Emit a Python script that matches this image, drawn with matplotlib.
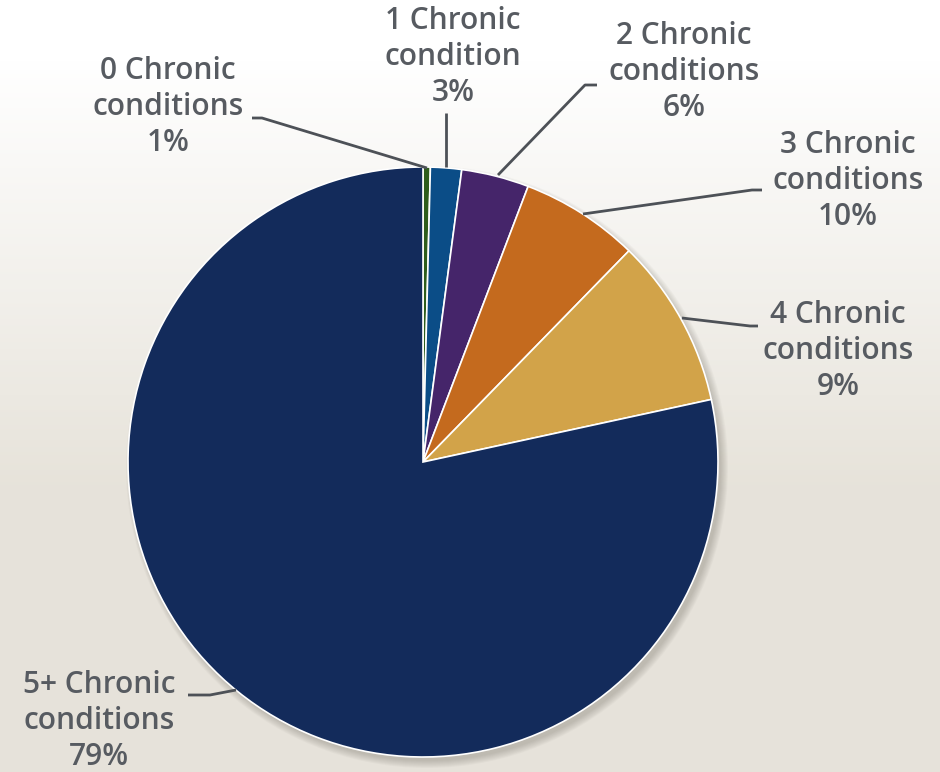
import matplotlib
matplotlib.use("Agg")
import matplotlib.pyplot as plt
import numpy as np
from matplotlib.patches import Circle

# slice sizes as drawn (percent of circle), clockwise from 12 o'clock
categories = ["0 Chronic\nconditions", "1 Chronic\ncondition", "2 Chronic\nconditions",
              "3 Chronic\nconditions", "4 Chronic\nconditions", "5+ Chronic\nconditions"]
shares = [0.4, 1.7, 3.7, 6.5, 9.3, 78.4]
pct_labels = ["1%", "3%", "6%", "10%", "9%", "79%"]
colors = ["#2e5d1c", "#0b4d87", "#45256a", "#c46a1e", "#d2a349", "#132b5b"]

W, H = 940, 772
fig = plt.figure(figsize=(W / 100, H / 100), dpi=100)

# background: white at the top fading into a warm paper colour
bg = fig.add_axes([0, 0, 1, 1])
t = np.clip((np.linspace(0, 1, 400) - 0.08) / 0.55, 0, 1)[:, None]
top = np.array([1.0, 1.0, 1.0])
bottom = np.array([0.905, 0.89, 0.855])
grad = top * (1 - t[..., None]) + bottom * t[..., None]
grad = np.repeat(grad, 4, axis=1)
bg.imshow(grad, aspect="auto", extent=[0, 1, 0, 1])
bg.axis("off")

ax = fig.add_axes([0, 0, 1, 1])
ax.set_xlim(0, W)
ax.set_ylim(0, H)
ax.set_aspect("equal")
ax.axis("off")
ax.patch.set_alpha(0)


def py(y):
    # pixel row -> data y
    return H - y


cx, cy, r = 423, py(462), 295

# soft drop shadow
for k in range(8):
    ax.add_patch(Circle((cx + 4, cy - 5), r + 6 - k, color="#6b665c", alpha=0.045, lw=0, zorder=1))

ax.pie(shares, colors=colors, startangle=90, counterclock=False, center=(cx, cy), radius=r,
       wedgeprops=dict(edgecolor="white", linewidth=1.2), frame=True)
for w in ax.patches[8:]:
    w.set_zorder(2)
ax.set_xlim(0, W)
ax.set_ylim(0, H)
ax.axis("off")

txt_color = "#575b61"
font = dict(family=["Open Sans", "DejaVu Sans"], fontsize=21.5, fontweight="semibold",
            color=txt_color, ha="center", va="center", linespacing=1.28)

label_pos = [(168, 107), (453, 57), (684, 72), (848, 181), (838, 351), (99, 721)]
leaders = [
    [(252, 118), (262, 118), (427, 168)],
    [(446, 113), (446, 167)],
    [(597, 85), (585, 85), (498, 175)],
    [(762, 190), (752, 190), (583, 214)],
    [(758, 326), (750, 326), (682, 318)],
    [(188, 695), (210, 695), (236, 690)],
]

for cat, pct, (x, y), pts in zip(categories, pct_labels, label_pos, leaders):
    ax.text(x, py(y), cat + "\n" + pct, zorder=5, **font)
    xs = [p[0] for p in pts]
    ys = [py(p[1]) for p in pts]
    ax.plot(xs, ys, color="#4d5157", lw=2, zorder=4, solid_capstyle="butt")

fig.savefig("out.png", dpi=100)
